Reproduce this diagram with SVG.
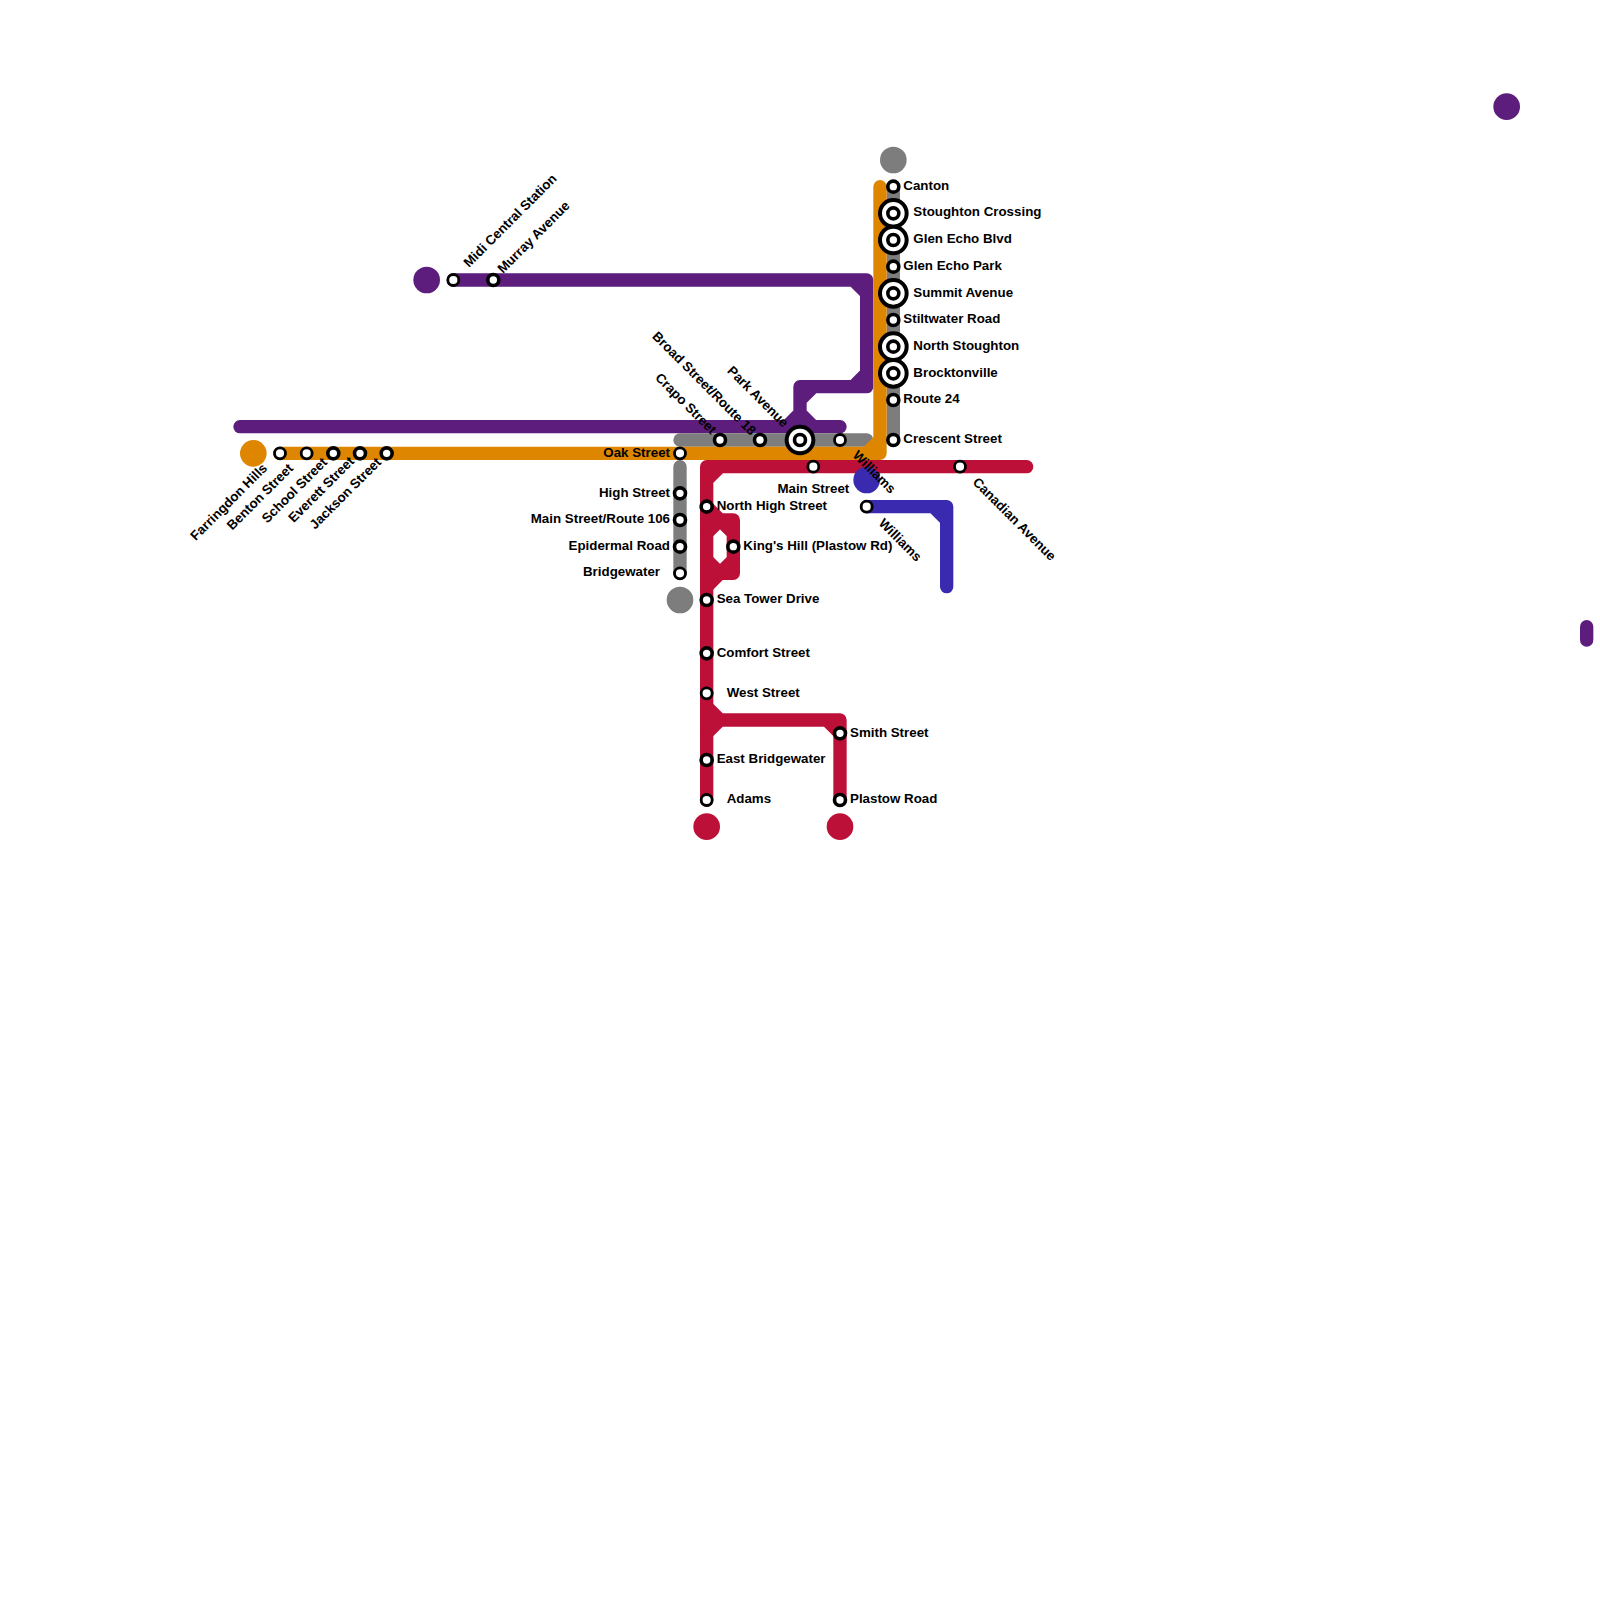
<svg xmlns="http://www.w3.org/2000/svg" width="1600" height="1600" viewBox="0 0 1600 1600">
<style>
.l{fill:none;stroke-width:13.33;stroke-linecap:round;stroke-linejoin:round}
.p{stroke:#5c1d7c}.o{stroke:#df8600}.g{stroke:#7d7d7d}.r{stroke:#bd1038}.b{stroke:#3a2ab0}
.s{fill:#fff;stroke:#000;stroke-width:3.6}
.t{fill:#fff;stroke:#000;stroke-width:2.8}
.x{fill:#fff;stroke:#000;stroke-width:4}
text{font-family:"Liberation Sans",Arial,sans-serif;font-weight:bold;font-size:13.33px;fill:#000}
.e{text-anchor:end}
.m{text-anchor:middle}
</style>
<rect width="1600" height="1600" fill="#fff"/>
<g id="connectors">
<path class="l g" d="M893.33 186.67V440"/>
<path class="l g" d="M680 466.67V573.33"/>
<path class="l p" d="M240 426.67H840"/>
<path class="l p" d="M453.33 280H866.67V386.67H800V426.67M853.33 280L866.67 293.33M853.33 386.67L866.67 373.33M813.33 386.67L800 400M800 413.33L813.33 426.67M800 413.33L786.67 426.67"/>
<path class="l g" d="M680 440H866.67"/>
<path class="l o" d="M280 453.33H880V186.67M866.67 453.33L880 440"/>
<path class="l r" d="M1026.67 466.67H706.67V800M706.67 480L720 466.67"/>
<path class="l r" d="M706.67 506.67L720 520H733.33V573.33H720L706.67 586.67M706.67 533.33L720 520L733.33 533.33M706.67 560L720 573.33L733.33 560"/>
<path class="l r" d="M706.67 706.67L720 720L706.67 733.33M720 720H840V800M826.67 720L840 733.33"/>
<path class="l b" d="M866.67 506.67H946.67V586.67M933.33 506.67L946.67 520"/>
<path class="l p" d="M1586.67 626.67V640"/>
</g>
<g id="termini">
<circle cx="253.33" cy="453.33" r="13.33" fill="#df8600"/>
<circle cx="426.67" cy="280" r="13.33" fill="#5c1d7c"/>
<circle cx="1506.67" cy="106.67" r="13.33" fill="#5c1d7c"/>
<circle cx="893.33" cy="160" r="13.33" fill="#7d7d7d"/>
<circle cx="680" cy="600" r="13.33" fill="#7d7d7d"/>
<circle cx="706.67" cy="826.67" r="13.33" fill="#bd1038"/>
<circle cx="840" cy="826.67" r="13.33" fill="#bd1038"/>
<circle cx="866.67" cy="480" r="13.33" fill="#3a2ab0"/>
</g>
<g id="stations">
<g id="n-farringdon"><circle class="t" cx="280" cy="453.33" r="5.5"/><text transform="translate(268 469) rotate(-45)" class="e">Farringdon Hills</text></g>
<g id="n-benton"><circle class="t" cx="306.67" cy="453.33" r="5.5"/><text transform="translate(294 469) rotate(-45)" class="e">Benton Street</text></g>
<g id="n-school"><circle class="s" cx="333.33" cy="453.33" r="5.5"/><text transform="translate(328 463) rotate(-45)" class="e">School Street</text></g>
<g id="n-everett"><circle class="s" cx="360" cy="453.33" r="5.5"/><text transform="translate(355 462) rotate(-45)" class="e">Everett Street</text></g>
<g id="n-jackson"><circle class="s" cx="386.67" cy="453.33" r="5.5"/><text transform="translate(382 463) rotate(-45)" class="e">Jackson Street</text></g>
<g id="n-midi"><circle class="t" cx="453.33" cy="280" r="5.5"/><text transform="translate(469 268) rotate(-45)">Midi Central Station</text></g>
<g id="n-murray"><circle class="s" cx="493.33" cy="280" r="5.5"/><text transform="translate(503 274) rotate(-45)">Murray Avenue</text></g>
<g id="n-crapo"><circle class="s" cx="720" cy="440" r="5.5"/><text transform="translate(711 435) rotate(45)" class="e">Crapo Street</text></g>
<g id="n-broad"><circle class="s" cx="760" cy="440" r="5.5"/><text transform="translate(750.5 436) rotate(45)" class="e">Broad Street/Route 18</text></g>
<g id="n-park"><circle class="x" cx="800" cy="440" r="13.33"/><circle class="s" cx="800" cy="440" r="5.5"/><text transform="translate(783 428) rotate(45)" class="e">Park Avenue</text></g>
<g id="n-840"><circle class="t" cx="840" cy="440" r="5.5"/></g>
<g id="n-oak"><circle class="t" cx="680" cy="453.33" r="5.5"/><text x="670" y="456.5" class="e">Oak Street</text></g>
<g id="n-high"><circle class="s" cx="680" cy="493.33" r="5.5"/><text x="670" y="496.5" class="e">High Street</text></g>
<g id="n-main106"><circle class="s" cx="680" cy="520" r="5.5"/><text x="670" y="523" class="e">Main Street/Route 106</text></g>
<g id="n-epidermal"><circle class="s" cx="680" cy="546.67" r="5.5"/><text x="670" y="549.5" class="e">Epidermal Road</text></g>
<g id="n-bridgewater"><circle class="t" cx="680" cy="573.33" r="5.5"/><text x="660" y="576" class="e">Bridgewater</text></g>
<g id="n-northhigh"><circle class="s" cx="706.67" cy="506.67" r="5.5"/><text x="716.67" y="509.5">North High Street</text></g>
<g id="n-kings"><circle class="s" cx="733.33" cy="546.67" r="5.5"/><text x="743.33" y="550">King's Hill (Plastow Rd)</text></g>
<g id="n-seatower"><circle class="s" cx="706.67" cy="600" r="5.5"/><text x="716.67" y="603">Sea Tower Drive</text></g>
<g id="n-comfort"><circle class="s" cx="706.67" cy="653.33" r="5.5"/><text x="716.67" y="656.5">Comfort Street</text></g>
<g id="n-west"><circle class="t" cx="706.67" cy="693.33" r="5.5"/><text x="726.67" y="696.5">West Street</text></g>
<g id="n-eastb"><circle class="s" cx="706.67" cy="760" r="5.5"/><text x="716.67" y="763">East Bridgewater</text></g>
<g id="n-adams"><circle class="t" cx="706.67" cy="800" r="5.5"/><text x="726.67" y="803">Adams</text></g>
<g id="n-smith"><circle class="s" cx="840" cy="733.33" r="5.5"/><text x="850" y="736.5">Smith Street</text></g>
<g id="n-plastow"><circle class="s" cx="840" cy="800" r="5.5"/><text x="850" y="803">Plastow Road</text></g>
<g id="n-main"><circle class="t" cx="813.33" cy="466.67" r="5.5"/><text x="813.33" y="492.5" class="m">Main Street</text></g>
<g id="n-williams1"><text transform="translate(852 456) rotate(45)">Williams</text></g>
<g id="n-williams2"><circle class="t" cx="866.67" cy="506.67" r="5.5"/><text transform="translate(878 524) rotate(45)">Williams</text></g>
<g id="n-canadian"><circle class="t" cx="960" cy="466.67" r="5.5"/><text transform="translate(972 483) rotate(45)">Canadian Avenue</text></g>
<g id="n-canton"><circle class="s" cx="893.33" cy="186.67" r="5.5"/><text x="903.33" y="189.5">Canton</text></g>
<g id="n-stoughton"><circle class="x" cx="893.33" cy="213.33" r="13.33"/><circle class="s" cx="893.33" cy="213.33" r="5.5"/><text x="913.33" y="216">Stoughton Crossing</text></g>
<g id="n-glenblvd"><circle class="x" cx="893.33" cy="240" r="13.33"/><circle class="s" cx="893.33" cy="240" r="5.5"/><text x="913.33" y="242.5">Glen Echo Blvd</text></g>
<g id="n-glenpark"><circle class="s" cx="893.33" cy="266.67" r="5.5"/><text x="903.33" y="269.5">Glen Echo Park</text></g>
<g id="n-summit"><circle class="x" cx="893.33" cy="293.33" r="13.33"/><circle class="s" cx="893.33" cy="293.33" r="5.5"/><text x="913.33" y="296.5">Summit Avenue</text></g>
<g id="n-stiltwater"><circle class="s" cx="893.33" cy="320" r="5.5"/><text x="903.33" y="323">Stiltwater Road</text></g>
<g id="n-northst"><circle class="x" cx="893.33" cy="346.67" r="13.33"/><circle class="s" cx="893.33" cy="346.67" r="5.5"/><text x="913.33" y="349.5">North Stoughton</text></g>
<g id="n-brockton"><circle class="x" cx="893.33" cy="373.33" r="13.33"/><circle class="s" cx="893.33" cy="373.33" r="5.5"/><text x="913.33" y="376.5">Brocktonville</text></g>
<g id="n-route24"><circle class="s" cx="893.33" cy="400" r="5.5"/><text x="903.33" y="403">Route 24</text></g>
<g id="n-crescent"><circle class="s" cx="893.33" cy="440" r="5.5"/><text x="903.33" y="443">Crescent Street</text></g>
</g>
</svg>
